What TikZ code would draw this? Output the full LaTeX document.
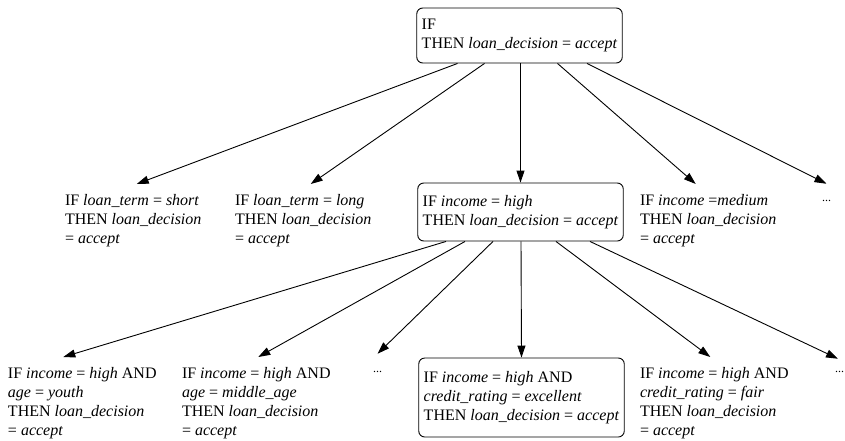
\documentclass[tikz,border=0pt]{standalone}
\usepackage{fontspec}
\setmainfont{Liberation Serif}
\usepackage{tikz}
\usetikzlibrary{arrows.meta}

\tikzset{
  rulebox/.style={draw, rounded corners=6pt, line width=0.9pt, align=left,
    inner xsep=5pt, inner ysep=3pt},
  ruletext/.style={align=left, anchor=north west, inner sep=0pt,
    outer xsep=0pt, outer ysep=10pt},
  dotsnode/.style={anchor=base west, inner sep=0pt, outer sep=0pt,
    font=\fontsize{12}{12}\selectfont},
  edge/.style={line width=0.9pt, -{Triangle[length=12pt,width=8pt]}}
}
\newcommand{\vv}[1]{\textit{#1}}

\begin{document}
\begin{tikzpicture}[x=1pt, y=-1pt, every node/.style={font=\fontsize{16}{19}\selectfont}]
    \useasboundingbox (0,0) rectangle (845,440);

    % 1. Root rule
    \node[rulebox, minimum height=55pt] (root) at (519.5,35.5)
      {IF\\THEN \vv{loan\_decision} = \vv{accept}};

    % 2. First level
    \node[ruletext] (short) at (65,184)
      {IF \vv{loan\_term} = \vv{short}\\THEN \vv{loan\_decision}\\= \vv{accept}};
    \node[ruletext] (long) at (235,184)
      {IF \vv{loan\_term} = \vv{long}\\THEN \vv{loan\_decision}\\= \vv{accept}};
    \node[rulebox, minimum height=58pt] (high) at (520.5,212)
      {IF \vv{income} = \vv{high}\\THEN \vv{loan\_decision} = \vv{accept}};
    \node[ruletext] (medium) at (640,184)
      {IF \vv{income} =\vv{medium}\\THEN \vv{loan\_decision}\\= \vv{accept}};
    \node[dotsnode] (more1) at (822,201) {...};

    % 3. Second level
    \node[ruletext] (youth) at (8,357)
      {IF \vv{income} = \vv{high} AND\\\vv{age} = \vv{youth}\\THEN \vv{loan\_decision}\\= \vv{accept}};
    \node[ruletext] (middle) at (182,357)
      {IF \vv{income} = \vv{high} AND\\\vv{age} = \vv{middle\_age}\\THEN \vv{loan\_decision}\\= \vv{accept}};
    \node[dotsnode] (more2) at (373,372) {...};
    \node[rulebox, minimum height=79pt] (excel) at (521.5,397.5)
      {IF \vv{income} = \vv{high} AND\\\vv{credit\_rating} = \vv{excellent}\\THEN \vv{loan\_decision} = \vv{accept}};
    \node[ruletext] (fair) at (640,357)
      {IF \vv{income} = \vv{high} AND\\\vv{credit\_rating} = \vv{fair}\\THEN \vv{loan\_decision}\\= \vv{accept}};
    \node[dotsnode] (more3) at (835,372) {...};

    % 4. Edges from the root
    \draw[edge] ([xshift=-62pt]root.south) -- ([xshift=3.5pt]short.north);
    \draw[edge] ([xshift=-35pt]root.south) -- ([xshift=7.5pt]long.north);
    \draw[edge] ([xshift=1pt]root.south) -- (high.north);
    \draw[edge] ([xshift=38pt]root.south) -- ([xshift=-12.5pt]medium.north);
    \draw[edge] ([xshift=67.5pt]root.south) -- ([yshift=16pt]more1.north);

    % 5. Edges from income = high
    \draw[edge] ([xshift=-74.5pt]high.south) -- ([xshift=-19pt]youth.north);
    \draw[edge] ([xshift=-55.5pt]high.south) -- ([xshift=2pt]middle.north);
    \draw[edge] ([xshift=-27.5pt]high.south) -- ([yshift=17pt]more2.north);
    \draw[edge] ([xshift=0.5pt]high.south) -- (excel.north);
    \draw[edge] ([xshift=35.5pt]high.south) -- ([xshift=-4pt]fair.north);
    \draw[edge] ([xshift=69.5pt]high.south) -- ([xshift=-1.5pt,yshift=12pt]more3.north);

\end{tikzpicture}
\end{document}
